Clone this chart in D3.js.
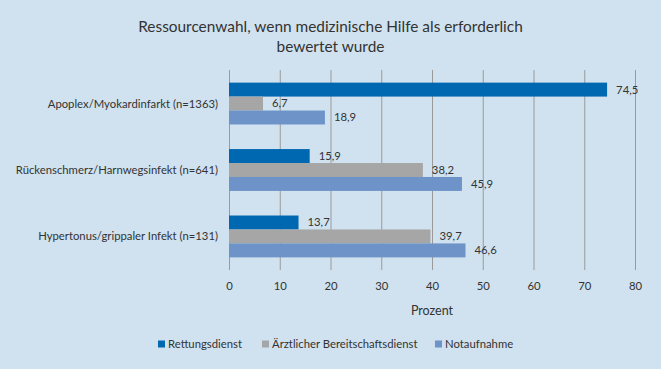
<!DOCTYPE html>
<html lang="de">

<head>
    <meta charset="utf-8">
    <script src='https://d3js.org/d3.v7.min.js'></script>
    <style>
        body { margin: 0; background: #d0e2ef; }
        text { font-family: Lato, "Open Sans", sans-serif; fill: #333; }
    </style>
</head>

<body>

    <script>

        const categories = [
            "Apoplex/Myokardinfarkt (n=1363)",
            "Rückenschmerz/Harnwegsinfekt (n=641)",
            "Hypertonus/grippaler Infekt (n=131)"
        ];
        const seriesNames = ["Rettungsdienst", "Ärztlicher Bereitschaftsdienst", "Notaufnahme"];
        const rettungsdienst = [74.5, 15.9, 13.7];
        const bereitschaftsdienst = [6.7, 38.2, 39.7];
        const notaufnahme = [18.9, 45.9, 46.6];
        const xTicks = [0, 10, 20, 30, 40, 50, 60, 70, 80];
        const colors = ["#0067b1", "#a6a6a6", "#6d93c8"];

        const width = 661;
        const height = 369;
        const margin = { top: 70, right: 26, bottom: 99, left: 229 };

        const seriesValues = [rettungsdienst, bereitschaftsdienst, notaufnahme];
        const fmt = d3.format(".1f");
        const labelSize = "11.3px";

        var svg = d3.select("body")
            .append("svg")
            .attr("width", width)
            .attr("height", height);

        svg.append("rect")
            .attr("width", width)
            .attr("height", height)
            .attr("fill", "#d0e2ef");

        // title
        var title = svg.append("text")
            .attr("text-anchor", "middle")
            .style("font-size", "15.4px");
        title.append("tspan").attr("x", 330.5).attr("y", 32)
            .text("Ressourcenwahl, wenn medizinische Hilfe als erforderlich");
        title.append("tspan").attr("x", 330.5).attr("y", 52)
            .text("bewertet wurde");

        var x = d3.scaleLinear()
            .domain([0, 80])
            .range([margin.left, width - margin.right]);

        var y = d3.scaleBand()
            .domain(categories)
            .range([margin.top, height - margin.bottom])
            .paddingInner(0.37)
            .paddingOuter(0.19);

        var ySeries = d3.scaleBand()
            .domain(d3.range(seriesNames.length))
            .range([0, y.bandwidth()]);

        // gridlines + tick labels
        var xAxis = d3.axisBottom(x)
            .tickValues(xTicks)
            .tickSize(-(height - margin.bottom - margin.top))
            .tickPadding(12)
            .tickFormat(d3.format("d"));

        var gx = svg.append("g")
            .attr("transform", "translate(0," + (height - margin.bottom) + ")")
            .call(xAxis);
        gx.select(".domain").remove();
        gx.selectAll(".tick line").attr("stroke", "#9a9a9a");
        gx.selectAll(".tick text")
            .style("font-size", labelSize)
            .attr("fill", "#333");

        svg.append("text")
            .attr("x", (x(0) + x(80)) / 2)
            .attr("y", 315)
            .attr("text-anchor", "middle")
            .style("font-size", "12.5px")
            .text("Prozent");

        // bars
        var groups = svg.selectAll(".grp")
            .data(categories)
            .enter()
            .append("g")
            .attr("class", "grp")
            .attr("transform", function (d) { return "translate(0," + y(d) + ")"; });

        groups.each(function (cat, ci) {
            var g = d3.select(this);
            seriesValues.forEach(function (vals, si) {
                g.append("rect")
                    .attr("x", x(0))
                    .attr("y", ySeries(si))
                    .attr("width", x(vals[ci]) - x(0))
                    .attr("height", ySeries.bandwidth())
                    .attr("fill", colors[si]);
                g.append("text")
                    .attr("x", x(vals[ci]) + 9)
                    .attr("y", ySeries(si) + ySeries.bandwidth() / 2)
                    .attr("dy", ".35em")
                    .style("font-size", labelSize)
                    .text(fmt(vals[ci]).replace(".", ","));
            });
        });

        // category labels
        svg.selectAll(".cat")
            .data(categories)
            .enter()
            .append("text")
            .attr("class", "cat")
            .attr("x", margin.left - 11)
            .attr("y", function (d) { return y(d) + y.bandwidth() / 2; })
            .attr("dy", ".35em")
            .attr("text-anchor", "end")
            .style("font-size", labelSize)
            .text(function (d) { return d; });

        // legend
        const legendX = [158, 262, 435];
        var legend = svg.selectAll(".leg")
            .data(seriesNames)
            .enter()
            .append("g")
            .attr("class", "leg")
            .attr("transform", function (d, i) { return "translate(" + legendX[i] + ",344)"; });
        legend.append("rect")
            .attr("x", 0)
            .attr("y", -3.5)
            .attr("width", 7)
            .attr("height", 7)
            .attr("fill", function (d, i) { return colors[i]; });
        legend.append("text")
            .attr("x", 10)
            .attr("dy", ".35em")
            .style("font-size", labelSize)
            .text(function (d) { return d; });

    </script>

</body>

</html>
